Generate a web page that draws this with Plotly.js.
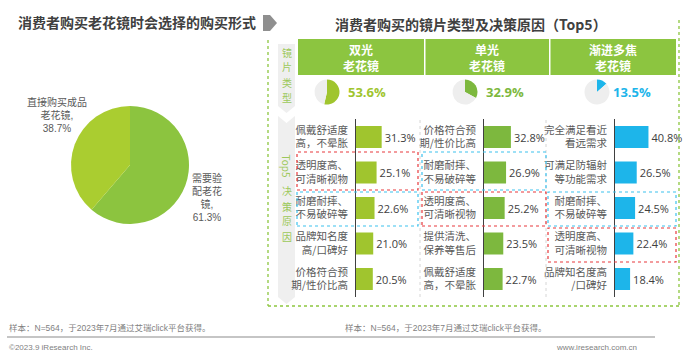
<!DOCTYPE html>
<html><head><meta charset="utf-8">
<script src="https://cdn.plot.ly/plotly-3.0.1.min.js"></script>
<style>html,body{margin:0;padding:0;background:#fff}#chart{width:700px;height:355px}</style>
</head><body><div id="chart"></div>
<script>
// ---- data ----
const formLabels = ['需要验配<br>老花镜', '直接购买成品老花镜'];
const formValues = [61.3, 38.7];

const lensTypes = ['双光<br>老花镜', '单光<br>老花镜', '渐进多焦<br>老花镜'];
const lensShares = [53.6, 32.9, 13.5];

const reasonsBifocal = ['佩戴舒适度<br>高，不晕胀', '透明度高、<br>可清晰视物', '耐磨耐摔、<br>不易破碎等', '品牌知名度<br>高/口碑好', '价格符合预<br>期/性价比高'];
const valuesBifocal = [31.3, 25.1, 22.6, 21.0, 20.5];

const reasonsSingle = ['价格符合预<br>期/性价比高', '耐磨耐摔、<br>不易破碎等', '透明度高、<br>可清晰视物', '提供清洗、<br>保养等售后', '佩戴舒适度<br>高，不晕胀'];
const valuesSingle = [32.8, 26.9, 25.2, 23.5, 22.7];

const reasonsProgressive = ['完全满足看近<br>看远需求', '可满足防辐射<br>等功能需求', '耐磨耐摔、<br>不易破碎等', '透明度高、<br>可清晰视物', '品牌知名度高<br>/口碑好'];
const valuesProgressive = [40.8, 26.5, 24.5, 22.4, 18.4];

const sideTypeChars = ['镜', '片', '类', '型'];
const sideReasonChars = ['决', '策', '原', '因'];

// ---- helpers ----
const W = 700, H = 355;
const px = x => x / W;
const py = y => 1 - y / H;
const CJK = 'Noto Sans CJK SC';
const NUM = 'Open Sans, Noto Sans CJK SC';
const colColors = ['#a0c52e', '#7db83e', '#1db5ea'];

const traces = [];
// big pie
traces.push({
  type: 'pie', values: formValues, labels: formLabels, sort: false, direction: 'clockwise', rotation: 0,
  marker: {colors: ['#8cc43f', '#aacd30']}, textinfo: 'none', hoverinfo: 'skip', showlegend: false,
  domain: {x: [px(71), px(189)], y: [py(224), py(106)]}
});
// mini pies
const pieCx = [327, 465, 597];
lensShares.forEach((v, i) => {
  traces.push({
    type: 'pie', values: [v, 100 - v], labels: ['a' + i, 'b' + i], sort: false, direction: 'clockwise', rotation: 0,
    marker: {colors: [colColors[i], '#eeeeee']}, textinfo: 'none', hoverinfo: 'skip', showlegend: false,
    domain: {x: [px(pieCx[i] - 12.5), px(pieCx[i] + 12.5)], y: [py(104.5), py(79.5)]}
  });
});
// bars
const barSets = [[reasonsBifocal, valuesBifocal], [reasonsSingle, valuesSingle], [reasonsProgressive, valuesProgressive]];
barSets.forEach((s, i) => {
  const k = i === 0 ? '' : String(i + 1);
  traces.push({
    type: 'bar', orientation: 'h', y: s[0], x: s[1], xaxis: 'x' + k, yaxis: 'y' + k,
    marker: {color: colColors[i]}, texttemplate: '%{x:.1f}%', textposition: 'outside',
    textfont: {family: NUM, size: 11, color: '#404040'}, cliponaxis: false, constraintext: 'none',
    hoverinfo: 'skip', showlegend: false
  });
});

const axisX = [356, 484, 615];
const layout = {
  width: W, height: H, margin: {l: 0, r: 0, t: 0, b: 0}, paper_bgcolor: '#fff', plot_bgcolor: 'rgba(0,0,0,0)',
  bargap: 0.38, showlegend: false, shapes: [], annotations: []
};
const yd = [py(296.75), py(119.25)];
axisX.forEach((ax, i) => {
  const k = i === 0 ? '' : String(i + 1);
  layout['xaxis' + k] = {domain: [px(ax), px(ax + 41)], range: [0, 50], visible: false, anchor: 'y' + k, fixedrange: true};
  layout['yaxis' + k] = {domain: yd, anchor: 'x' + k, type: 'category', autorange: 'reversed', showline: true,
    linecolor: '#404040', linewidth: 1, ticks: '', showgrid: false, zeroline: false, ticklabelstandoff: 5,
    tickfont: {family: CJK, size: 10.5, color: '#595959'}, fixedrange: true};
});

const S = layout.shapes, A = layout.annotations;
const rect = (x0, y0, x1, y1, o) => S.push(Object.assign({type: 'rect', xref: 'paper', yref: 'paper', x0: px(x0), x1: px(x1), y0: py(y1), y1: py(y0), layer: 'below'}, o));
const line = (x0, y0, x1, y1, o) => S.push(Object.assign({type: 'line', xref: 'paper', yref: 'paper', x0: px(x0), x1: px(x1), y0: py(y0), y1: py(y1)}, o));
const path = (pts, o) => S.push(Object.assign({type: 'path', xref: 'paper', yref: 'paper', layer: 'below',
  path: 'M' + pts.map(p => px(p[0]) + ',' + py(p[1])).join(' L') + ' Z'}, o));
const ann = (x, y, text, font, o) => A.push(Object.assign({xref: 'paper', yref: 'paper', x: px(x), y: py(y), text, showarrow: false,
  xanchor: 'center', yanchor: 'middle', font}, o));

// green dotted frame
const green = '#8dc63f';
line(268, 40, 268, 306, {line: {color: green, width: 1.3, dash: 'dot'}});
line(679, 20, 679, 306, {line: {color: green, width: 1.3, dash: 'dot'}});
line(268, 306, 679, 306, {line: {color: green, width: 1.3, dash: 'dot'}});
// arrow
path([[263, 15], [270, 15], [277, 23], [270, 31], [263, 31]], {fillcolor: '#8f8f8f', line: {width: 0}});
// gray side pills
path([[278, 44], [295, 44], [295, 106], [286.5, 113], [278, 106]], {fillcolor: '#efefef', line: {width: 0}});
path([[278, 116], [286.5, 123], [295, 116], [295, 297], [286.5, 304], [278, 297]], {fillcolor: '#efefef', line: {width: 0}});
// header bands
const colEdges = [[298, 424], [425.5, 549], [550.5, 676]];
colEdges.forEach((c, i) => {
  rect(c[0], 39, c[1], 75, {fillcolor: '#8cc540', line: {width: 0}});
  ann((c[0] + c[1]) / 2, 57, '<b>' + lensTypes[i] + '</b>', {family: CJK, size: 12, color: '#ffffff'});
});
// mini pie percentages
const pctX = [367, 505, 632];
lensShares.forEach((v, i) => ann(pctX[i], 92, '<b>' + v.toFixed(1) + '%</b>', {family: NUM, size: 13, color: colColors[i]}));
// column separators
line(420, 120, 420, 300, {line: {color: '#d6d6d6', width: 1, dash: 'dot'}});
line(546, 120, 546, 300, {line: {color: '#d6d6d6', width: 1, dash: 'dot'}});
// highlight boxes
const red = '#e8393c', cyan = '#3cc2ee';
const hb = (x0, y0, x1, y1, c) => rect(x0, y0, x1, y1, {line: {color: c, width: 1.2, dash: 'dot'}, fillcolor: 'rgba(0,0,0,0)', layer: 'above'});
hb(297, 152, 418, 190, red);
hb(297, 192, 418, 226, cyan);
hb(422, 152, 546, 190, cyan);
hb(422, 192, 546, 226, red);
hb(548, 192, 676, 226, cyan);
hb(548, 228, 676, 262, red);
// side vertical labels
const sideGreen = '#9cc85a';
const sf = {family: CJK, size: 10, color: sideGreen};
sideTypeChars.forEach((c, i) => ann(286.5, 52 + 15 * i, c, sf, {borderpad: 0}));
ann(286.5, 166, 'Top5', sf, {textangle: 90, borderpad: 0});
sideReasonChars.forEach((c, i) => ann(286.5, 191 + 15 * i, c, sf, {borderpad: 0}));
// titles
ann(136.5, 22, '<b>消费者购买老花镜时会选择的购买形式</b>', {family: CJK, size: 14, color: '#404040'});
ann(471, 24, '<b>消费者购买的镜片类型及决策原因（Top5）</b>', {family: CJK, size: 14, color: '#404040'});
// big pie labels
const pf = {family: 'Liberation Sans, ' + CJK, size: 10, color: '#595959'};
ann(57, 115, '直接购买成品<br>老花镜,<br>' + formValues[1].toFixed(1) + '%', pf);
ann(207, 197, '需要验<br>配老花<br>镜,<br>' + formValues[0].toFixed(1) + '%', pf);
// footer
const ff = {family: 'Liberation Sans, ' + CJK, size: 8.5, color: '#7f7f7f'};
ann(7, 328, '样本：N=564，于2023年7月通过艾瑞click平台获得。', ff, {xanchor: 'left'});
ann(343, 328, '样本：N=564，于2023年7月通过艾瑞click平台获得。', ff, {xanchor: 'left'});
line(7, 337, 655, 337, {line: {color: '#8c8c8c', width: 1.2}});
ann(7, 347, '©2023.9 iResearch Inc.', {family: 'Liberation Sans', size: 8, color: '#7f7f7f'}, {xanchor: 'left'});
ann(639, 347, 'www.iresearch.com.cn', {family: 'Liberation Sans', size: 8, color: '#7f7f7f'}, {xanchor: 'right'});

Plotly.newPlot('chart', traces, layout, {staticPlot: true, displayModeBar: false});
</script></body></html>
